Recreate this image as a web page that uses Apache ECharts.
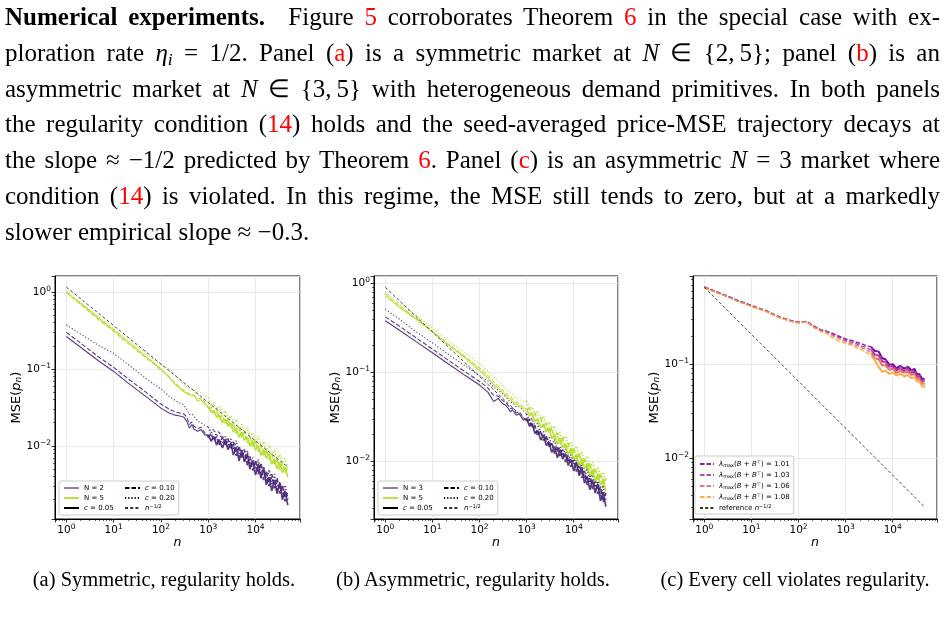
<!DOCTYPE html>
<html>
<head>
<meta charset="utf-8">
<script src="https://cdn.jsdelivr.net/npm/echarts@6/dist/echarts.min.js"></script>
<style>
html, body { margin: 0; padding: 0; background: #fff; }
body { width: 947px; height: 625px; position: relative; overflow: hidden; }
#chart { position: absolute; left: 0; top: 0; width: 947px; height: 625px; }
#para { position: absolute; left: 5px; top: -1px; width: 935px; font-family: 'Liberation Serif', serif; font-size: 25px; line-height: 35.8px; color: #000; }
.ln { text-align: justify; text-align-last: justify; }
.ln.last { text-align-last: left; }
.r { color: #ff0000; }
sub { font-size: 0.7em; line-height: 0; vertical-align: -0.25em; }
.cap { position: absolute; top: 567px; width: 300px; text-align: center; white-space: nowrap; font-family: 'Liberation Serif', serif; font-size: 20.5px; line-height: 24px; color: #000; }
</style>
</head>
<body>
<div id="chart"></div>
<div id="para">
<div class="ln"><b>Numerical experiments.</b>&ensp; Figure <span class="r">5</span> corroborates Theorem <span class="r">6</span> in the special case with ex-</div>
<div class="ln">ploration rate <i>η</i><sub><i>i</i></sub> = 1/2. Panel (<span class="r">a</span>) is a symmetric market at <i>N</i> ∈ {2,&thinsp;5}; panel (<span class="r">b</span>) is an</div>
<div class="ln">asymmetric market at <i>N</i> ∈ {3,&thinsp;5} with heterogeneous demand primitives. In both panels</div>
<div class="ln">the regularity condition (<span class="r">14</span>) holds and the seed-averaged price-MSE trajectory decays at</div>
<div class="ln">the slope ≈ −1/2 predicted by Theorem <span class="r">6</span>. Panel (<span class="r">c</span>) is an asymmetric <i>N</i> = 3 market where</div>
<div class="ln">condition (<span class="r">14</span>) is violated. In this regime, the MSE still tends to zero, but at a markedly</div>
<div class="ln last">slower empirical slope ≈ −0.3.</div>
</div>
<div class="cap" style="left:14px">(a) Symmetric, regularity holds.</div>
<div class="cap" style="left:323px">(b) Asymmetric, regularity holds.</div>
<div class="cap" style="left:645px">(c) Every cell violates regularity.</div>

<script>
// n values used by panels (a) and (b); index 18 (n = 1000) is where the noisy tail starts
const N_AB = [1, 2, 5, 10, 20, 50, 100, 150, 200, 250, 300, 350, 400, 450, 500, 600, 700, 850,
  1000, 1150, 1300, 1500, 1700, 2000, 2300, 2600, 3000, 3400, 3900, 4500, 5100, 5800, 6700, 7600, 8700,
  10000, 11400, 13000, 14800, 16900, 19300, 22000, 25000, 28500, 32500, 37000, 42000, 48000];
// n values used by panel (c); index 20 (n = 3500) is where the noisy tail starts
const N_C = [1, 2, 3, 5, 10, 20, 40, 70, 100, 150, 200, 300, 400, 500, 700, 1000, 1300, 1700, 2200, 2800,
  3500, 4200, 5000, 6000, 7000, 8500, 10000, 12000, 14500, 17500, 21000, 25000, 29000, 33000, 37000, 42000, 48000];
const N_REF = [1, 48000];

// (a) symmetric market, N = 2
const A_N2_C05 = [0.265, 0.192, 0.125, 0.093, 0.066, 0.043, 0.031, 0.0268, 0.0251, 0.0245, 0.0238, 0.021, 0.017, 0.019, 0.0165, 0.0155, 0.0163, 0.0138,
  0.0139, 0.0115, 0.0132, 0.0103, 0.0121, 0.0094, 0.0121, 0.0089, 0.0109, 0.0076, 0.0096, 0.0064, 0.0088, 0.0062, 0.0078, 0.0050, 0.0064,
  0.0042, 0.0058, 0.0038, 0.0052, 0.0031, 0.0039, 0.0026, 0.0036, 0.0024, 0.0033, 0.0020, 0.0026, 0.0017];
const A_N2_C10 = [0.30, 0.217, 0.141, 0.105, 0.075, 0.049, 0.035, 0.030, 0.0275, 0.0268, 0.0262, 0.024, 0.019, 0.0205, 0.018, 0.0168, 0.0175, 0.0148,
  0.0129, 0.0145, 0.0118, 0.0132, 0.0102, 0.0132, 0.0100, 0.0125, 0.0090, 0.0113, 0.0074, 0.0099, 0.0069, 0.0090, 0.0056, 0.0073, 0.0048,
  0.0065, 0.0043, 0.0060, 0.0036, 0.0047, 0.0030, 0.0043, 0.0028, 0.0038, 0.0024, 0.0031, 0.0019, 0.0026];
const A_N2_C20 = [0.376, 0.285, 0.20, 0.16, 0.115, 0.074, 0.055, 0.044, 0.039, 0.036, 0.0344, 0.030, 0.0255, 0.026, 0.0243, 0.021, 0.020, 0.0185,
  0.0177, 0.0148, 0.0165, 0.0134, 0.0155, 0.0111, 0.0133, 0.0098, 0.0123, 0.0090, 0.0117, 0.0073, 0.0091, 0.0065, 0.0086, 0.0054, 0.0070,
  0.0050, 0.0067, 0.0040, 0.0054, 0.0034, 0.0049, 0.0032, 0.0043, 0.0026, 0.0034, 0.0022, 0.0031, 0.0020];
// (a) symmetric market, N = 5
const A_N5_C05 = [1.00, 0.71, 0.45, 0.32, 0.225, 0.142, 0.100, 0.077, 0.063, 0.056, 0.051, 0.048, 0.046, 0.0455, 0.045, 0.038, 0.040, 0.035,
  0.0322, 0.0274, 0.0288, 0.0236, 0.0250, 0.0202, 0.0221, 0.0181, 0.0197, 0.0151, 0.0168, 0.0130, 0.0152, 0.0119, 0.0130, 0.0099, 0.0118,
  0.0088, 0.0101, 0.0075, 0.0090, 0.0069, 0.0080, 0.0058, 0.0068, 0.0050, 0.0061, 0.0045, 0.0053, 0.0039];
const A_N5_C10 = [0.98, 0.69, 0.43, 0.31, 0.215, 0.137, 0.097, 0.079, 0.066, 0.058, 0.053, 0.050, 0.048, 0.046, 0.046, 0.041, 0.042, 0.037,
  0.0312, 0.0318, 0.0268, 0.0284, 0.0232, 0.0248, 0.0195, 0.0220, 0.0173, 0.0194, 0.0146, 0.0170, 0.0130, 0.0151, 0.0110, 0.0130, 0.0098,
  0.0116, 0.0085, 0.0100, 0.0074, 0.0088, 0.0067, 0.0078, 0.0057, 0.0068, 0.0049, 0.0059, 0.0045, 0.0052];
const A_N5_C20 = [1.02, 0.73, 0.47, 0.335, 0.24, 0.155, 0.112, 0.100, 0.085, 0.072, 0.063, 0.058, 0.055, 0.056, 0.053, 0.050, 0.049, 0.044,
  0.0424, 0.0347, 0.0365, 0.0297, 0.0331, 0.0266, 0.0287, 0.0223, 0.0247, 0.0200, 0.0223, 0.0168, 0.0191, 0.0151, 0.0171, 0.0131, 0.0148,
  0.0111, 0.0133, 0.0101, 0.0114, 0.0087, 0.0102, 0.0077, 0.0087, 0.0066, 0.0078, 0.0060, 0.0068, 0.0051];
const A_REF = [1.16, 0.0053];

// (b) asymmetric market, N = 3
const B_N3_C05 = [0.38, 0.297, 0.213, 0.166, 0.128, 0.092, 0.072, 0.060, 0.047, 0.051, 0.045, 0.043, 0.040, 0.036, 0.038, 0.033, 0.034, 0.029,
  0.0305, 0.0249, 0.0267, 0.0206, 0.0222, 0.0174, 0.0197, 0.0151, 0.0164, 0.0126, 0.0146, 0.0110, 0.0136, 0.0106, 0.0122, 0.0090, 0.0105,
  0.0078, 0.0098, 0.0069, 0.0086, 0.0057, 0.0068, 0.0048, 0.0062, 0.0044, 0.0056, 0.0036, 0.0045, 0.0031];
const B_N3_C10 = [0.42, 0.33, 0.235, 0.183, 0.141, 0.101, 0.079, 0.067, 0.055, 0.054, 0.049, 0.046, 0.043, 0.039, 0.040, 0.035, 0.036, 0.031,
  0.0286, 0.0297, 0.0241, 0.0249, 0.0195, 0.0221, 0.0171, 0.0192, 0.0143, 0.0164, 0.0122, 0.0148, 0.0115, 0.0136, 0.0098, 0.0116, 0.0087,
  0.0105, 0.0077, 0.0097, 0.0065, 0.0078, 0.0054, 0.0071, 0.0049, 0.0063, 0.0043, 0.0052, 0.0035, 0.0044];
const B_N3_C20 = [0.51, 0.395, 0.275, 0.215, 0.164, 0.118, 0.092, 0.080, 0.068, 0.063, 0.058, 0.054, 0.050, 0.046, 0.046, 0.041, 0.041, 0.037,
  0.0341, 0.0286, 0.0303, 0.0247, 0.0267, 0.0200, 0.0216, 0.0167, 0.0187, 0.0150, 0.0177, 0.0128, 0.0147, 0.0116, 0.0138, 0.0101, 0.0119,
  0.0094, 0.0115, 0.0075, 0.0094, 0.0064, 0.0084, 0.0059, 0.0074, 0.0049, 0.0060, 0.0041, 0.0054, 0.0037];
// (b) asymmetric market, N = 5
const B_N5_C05 = [0.72, 0.54, 0.38, 0.285, 0.21, 0.145, 0.105, 0.086, 0.073, 0.066, 0.060, 0.056, 0.052, 0.050, 0.047, 0.044, 0.042, 0.039,
  0.0385, 0.0328, 0.0344, 0.0281, 0.0298, 0.0241, 0.0263, 0.0216, 0.0235, 0.0181, 0.0200, 0.0155, 0.0182, 0.0142, 0.0156, 0.0118, 0.0140,
  0.0105, 0.0120, 0.0089, 0.0108, 0.0082, 0.0095, 0.0069, 0.0081, 0.0060, 0.0073, 0.0054, 0.0063, 0.0046];
const B_N5_C10 = [0.76, 0.56, 0.39, 0.29, 0.215, 0.15, 0.112, 0.092, 0.078, 0.070, 0.064, 0.059, 0.055, 0.054, 0.050, 0.046, 0.045, 0.041,
  0.0384, 0.0391, 0.0330, 0.0350, 0.0285, 0.0305, 0.0240, 0.0270, 0.0212, 0.0239, 0.0180, 0.0209, 0.0159, 0.0186, 0.0136, 0.0160, 0.0121,
  0.0143, 0.0104, 0.0123, 0.0090, 0.0109, 0.0082, 0.0096, 0.0070, 0.0084, 0.0061, 0.0073, 0.0055, 0.0065];
const B_N5_C20 = [0.80, 0.60, 0.42, 0.31, 0.235, 0.165, 0.125, 0.104, 0.089, 0.080, 0.073, 0.067, 0.062, 0.060, 0.057, 0.052, 0.050, 0.046,
  0.0477, 0.0390, 0.0410, 0.0335, 0.0373, 0.0299, 0.0323, 0.0251, 0.0278, 0.0225, 0.0250, 0.0189, 0.0215, 0.0170, 0.0193, 0.0147, 0.0166,
  0.0125, 0.0149, 0.0113, 0.0129, 0.0097, 0.0115, 0.0086, 0.0098, 0.0074, 0.0087, 0.0067, 0.0076, 0.0058];
const B_REF = [0.90, 0.0041];

// (c) violated regularity, one curve per lambda_max(B + B^T)
const C_101 = [0.665, 0.58, 0.535, 0.48, 0.422, 0.373, 0.318, 0.29, 0.28, 0.286, 0.258, 0.232, 0.224, 0.216, 0.200, 0.186, 0.180, 0.172, 0.165, 0.157,
  0.153, 0.138, 0.137, 0.116, 0.113, 0.099, 0.100, 0.091, 0.096, 0.090, 0.094, 0.086, 0.089, 0.078, 0.078, 0.070, 0.069];
const C_103 = [0.66, 0.575, 0.53, 0.475, 0.418, 0.37, 0.315, 0.288, 0.278, 0.284, 0.256, 0.230, 0.222, 0.212, 0.196, 0.180, 0.173, 0.165, 0.157, 0.149,
  0.143, 0.126, 0.124, 0.107, 0.106, 0.094, 0.095, 0.086, 0.091, 0.085, 0.089, 0.081, 0.084, 0.074, 0.074, 0.066, 0.066];
const C_106 = [0.655, 0.572, 0.527, 0.472, 0.415, 0.368, 0.313, 0.287, 0.277, 0.283, 0.254, 0.228, 0.220, 0.205, 0.190, 0.174, 0.166, 0.158, 0.150, 0.141,
  0.133, 0.116, 0.113, 0.097, 0.098, 0.087, 0.090, 0.081, 0.085, 0.081, 0.083, 0.077, 0.079, 0.070, 0.070, 0.062, 0.062];
const C_108 = [0.652, 0.57, 0.525, 0.47, 0.413, 0.366, 0.312, 0.286, 0.276, 0.281, 0.250, 0.222, 0.212, 0.195, 0.178, 0.167, 0.160, 0.150, 0.142, 0.133,
  0.125, 0.109, 0.094, 0.083, 0.085, 0.079, 0.082, 0.076, 0.079, 0.074, 0.077, 0.071, 0.073, 0.065, 0.066, 0.058, 0.058];
const C_REF = [0.66, 0.0030];

// axis ranges
const X_RANGE = [0.575, 87000];
const Y_RANGES = [[0.00112, 1.62], [0.00225, 1.21], [0.00225, 0.87]];

const FONT = 'DejaVu Sans';
const PURPLE = '#472577';
const GREEN = '#b5de2b';
const PLASMA = ['#6a00a8', '#b12a90', '#e16462', '#fca636'];
const DASH = [4.5, 2];
const DOT = [1.2, 2];
const REF_DASH = [3, 2.2];

const chart = echarts.init(document.getElementById('chart'));

function powLabel(v) {
    const e = Math.log10(v);
    const r = Math.round(e);
    if (Math.abs(e - r) > 1e-6) return '';
    return '{b|10}{s|' + String(r).replace('-', '\u2212') + '}';
}

const tickRich = {
    b: { fontSize: 10.5, fontFamily: FONT, color: '#000', lineHeight: 14 },
    s: { fontSize: 7.5, fontFamily: FONT, color: '#000', lineHeight: 6, verticalAlign: 'top' }
};

function minorValues(lo, hi) {
    const out = [];
    for (let e = -4; e <= 5; e++) {
        for (let m = 2; m <= 9; m++) {
            const v = m * Math.pow(10, e);
            if (v > lo && v < hi) out.push(v);
        }
    }
    return out;
}

const grids = [
    { left: 55, top: 276, width: 245, height: 243 },
    { left: 374, top: 276, width: 244, height: 243 },
    { left: 693, top: 276, width: 244, height: 243 }
].map(g => Object.assign(g, { show: true, borderColor: '#000', borderWidth: 1, containLabel: false }));

const xAxes = [];
const yAxes = [];
for (let gi = 0; gi < 3; gi++) {
    xAxes.push({
        type: 'log', gridIndex: gi, min: X_RANGE[0], max: X_RANGE[1], position: 'bottom',
        axisLine: { show: true, onZero: false, lineStyle: { color: '#000', width: 1 } },
        axisTick: { show: true, inside: false, length: 3.5, lineStyle: { color: '#000', width: 0.8 } },
        axisLabel: { formatter: powLabel, rich: tickRich, margin: 4 },
        splitLine: { show: true, lineStyle: { color: '#e4e4e4', width: 0.8 } },
        name: '{i|n}', nameLocation: 'middle', nameGap: 16,
        nameTextStyle: { rich: { i: { fontStyle: 'italic', fontSize: 12.5, fontFamily: FONT, color: '#000' } } }
    });
    yAxes.push({
        type: 'log', gridIndex: gi, min: Y_RANGES[gi][0], max: Y_RANGES[gi][1], position: 'left',
        axisLine: { show: true, onZero: false, lineStyle: { color: '#000', width: 1 } },
        axisTick: { show: true, inside: false, length: 3.5, lineStyle: { color: '#000', width: 0.8 } },
        axisLabel: { formatter: powLabel, rich: tickRich, margin: 4 },
        splitLine: { show: true, lineStyle: { color: '#e4e4e4', width: 0.8 } },
        name: '{n|MSE(}{i|p}{u|n}{n|)}', nameLocation: 'middle', nameGap: 31,
        nameTextStyle: {
            rich: {
                n: { fontSize: 13, fontFamily: FONT, color: '#000' },
                i: { fontSize: 13, fontFamily: FONT, color: '#000', fontStyle: 'italic' },
                u: { fontSize: 9, fontFamily: FONT, color: '#000', fontStyle: 'italic', verticalAlign: 'bottom', lineHeight: 9 }
            }
        }
    });
}
// minor ticks (2..9 x 10^k), one extra axis pair per grid
for (let gi = 0; gi < 3; gi++) {
    xAxes.push({
        type: 'log', gridIndex: gi, min: X_RANGE[0], max: X_RANGE[1], position: 'bottom',
        axisLine: { show: false }, axisLabel: { show: false }, splitLine: { show: false },
        axisTick: { show: true, length: 2, customValues: minorValues(X_RANGE[0], X_RANGE[1]), lineStyle: { color: '#000', width: 0.6 } }
    });
    yAxes.push({
        type: 'log', gridIndex: gi, min: Y_RANGES[gi][0], max: Y_RANGES[gi][1], position: 'left',
        axisLine: { show: false }, axisLabel: { show: false }, splitLine: { show: false },
        axisTick: { show: true, length: 2, customValues: minorValues(Y_RANGES[gi][0], Y_RANGES[gi][1]), lineStyle: { color: '#000', width: 0.6 } }
    });
}

function line(name, gi, ns, vals, color, type, width, opacity) {
    return {
        type: 'line', name: name, xAxisIndex: gi, yAxisIndex: gi,
        data: ns.map((n, i) => [n, vals[i]]),
        symbol: 'none', showSymbol: false, silent: true, animation: false,
        lineStyle: { color: color, width: width, type: type, opacity: opacity },
        itemStyle: { color: color },
        emphasis: { disabled: true }
    };
}

// a run drawn thin up to index `cut`, and a little heavier over its noisy tail
function noisy(name, gi, ns, vals, cut, color, type, tailWidth, opacity) {
    return [
        line(name, gi, ns.slice(0, cut + 1), vals.slice(0, cut + 1), color, type, 1.1, opacity),
        line(name + ':tail', gi, ns.slice(cut), vals.slice(cut), color, type, tailWidth, opacity)
    ];
}

function proxy(name, gi, color, type, width, opacity) {
    return line(name, gi, [], [], color, type, width, opacity);
}

const series = [].concat(
    // panel (a)
    noisy('a1', 0, N_AB, A_N2_C05, 18, PURPLE, 'solid', 1.7, 0.9),
    noisy('a2', 0, N_AB, A_N2_C10, 18, PURPLE, DASH, 1.7, 0.9),
    noisy('a3', 0, N_AB, A_N2_C20, 18, PURPLE, DOT, 1.7, 0.9),
    noisy('a4', 0, N_AB, A_N5_C05, 18, GREEN, 'solid', 1.7, 0.95),
    noisy('a5', 0, N_AB, A_N5_C10, 18, GREEN, DASH, 1.7, 0.95),
    noisy('a6', 0, N_AB, A_N5_C20, 18, GREEN, DOT, 1.7, 0.95),
    [line('a:ref', 0, N_REF, A_REF, '#333', REF_DASH, 0.9, 1),
    proxy('a:N2', 0, PURPLE, 'solid', 1.5, 0.6),
    proxy('a:N5', 0, GREEN, 'solid', 1.5, 0.9),
    proxy('a:c05', 0, '#000', 'solid', 1.2, 1),
    proxy('a:c10', 0, '#000', DASH, 1.2, 1),
    proxy('a:c20', 0, '#000', DOT, 1.2, 1)],
    // panel (b)
    noisy('b1', 1, N_AB, B_N3_C05, 18, PURPLE, 'solid', 1.7, 0.9),
    noisy('b2', 1, N_AB, B_N3_C10, 18, PURPLE, DASH, 1.7, 0.9),
    noisy('b3', 1, N_AB, B_N3_C20, 18, PURPLE, DOT, 1.7, 0.9),
    noisy('b4', 1, N_AB, B_N5_C05, 18, GREEN, 'solid', 1.7, 0.95),
    noisy('b5', 1, N_AB, B_N5_C10, 18, GREEN, DASH, 1.7, 0.95),
    noisy('b6', 1, N_AB, B_N5_C20, 18, GREEN, DOT, 1.7, 0.95),
    [line('b:ref', 1, N_REF, B_REF, '#333', REF_DASH, 0.9, 1),
    proxy('b:N3', 1, PURPLE, 'solid', 1.5, 0.6),
    proxy('b:N5', 1, GREEN, 'solid', 1.5, 0.9),
    proxy('b:c05', 1, '#000', 'solid', 1.2, 1),
    proxy('b:c10', 1, '#000', DASH, 1.2, 1),
    proxy('b:c20', 1, '#000', DOT, 1.2, 1)],
    // panel (c)
    [line('c:101', 2, N_C, C_101, PLASMA[0], DASH, 1.5, 0.85),
    line('c:103', 2, N_C, C_103, PLASMA[1], DASH, 1.5, 0.85),
    line('c:106', 2, N_C, C_106, PLASMA[2], DASH, 1.5, 0.85),
    line('c:108', 2, N_C, C_108, PLASMA[3], DASH, 1.5, 0.85)],
    [line('c:101:tail', 2, N_C.slice(20), C_101.slice(20), PLASMA[0], 'solid', 2, 0.8),
    line('c:103:tail', 2, N_C.slice(20), C_103.slice(20), PLASMA[1], 'solid', 2, 0.8),
    line('c:106:tail', 2, N_C.slice(20), C_106.slice(20), PLASMA[2], 'solid', 2, 0.8),
    line('c:108:tail', 2, N_C.slice(20), C_108.slice(20), PLASMA[3], 'solid', 2, 0.8),
    line('c:ref', 2, N_REF, C_REF, '#333', REF_DASH, 0.9, 1)]
);

const LABELS = {
    'a:N2': 'N = 2', 'a:N5': 'N = 5', 'b:N3': 'N = 3', 'b:N5': 'N = 5',
    'a:c05': '{i|c} = 0.05', 'a:c10': '{i|c} = 0.10', 'a:c20': '{i|c} = 0.20',
    'b:c05': '{i|c} = 0.05', 'b:c10': '{i|c} = 0.10', 'b:c20': '{i|c} = 0.20',
    'a:ref': '{i|n}{s|\u22121/2}', 'b:ref': '{i|n}{s|\u22121/2}',
    'c:101': '{i|\u03bb}{u|max}({i|B} + {i|B}{s|\u22a4}) = 1.01',
    'c:103': '{i|\u03bb}{u|max}({i|B} + {i|B}{s|\u22a4}) = 1.03',
    'c:106': '{i|\u03bb}{u|max}({i|B} + {i|B}{s|\u22a4}) = 1.06',
    'c:108': '{i|\u03bb}{u|max}({i|B} + {i|B}{s|\u22a4}) = 1.08',
    'c:ref': 'reference {i|n}{s|\u22121/2}'
};

const legendText = {
    fontSize: 7, fontFamily: FONT, color: '#000', lineHeight: 8,
    rich: {
        i: { fontSize: 7, fontFamily: FONT, color: '#000', fontStyle: 'italic', lineHeight: 8 },
        s: { fontSize: 5, fontFamily: FONT, color: '#000', verticalAlign: 'top', lineHeight: 4 },
        u: { fontSize: 5, fontFamily: FONT, color: '#000', verticalAlign: 'bottom', lineHeight: 4 }
    }
};

function legendBox(extra) {
    return Object.assign({
        orient: 'vertical', itemWidth: 15, itemHeight: 8, itemGap: 2,
        padding: [3, 4, 3, 4], borderColor: '#cccccc', borderWidth: 1, borderRadius: 2,
        backgroundColor: 'rgba(255,255,255,0.85)', selectedMode: false,
        itemStyle: { opacity: 0 },
        textStyle: legendText, formatter: name => LABELS[name] || name
    }, extra);
}

const legends = [
    legendBox({
        left: 59, top: 481, height: 30,
        data: [{ name: 'a:N2', textStyle: { width: 38 } }, { name: 'a:N5', textStyle: { width: 38 } }, { name: 'a:c05', textStyle: { width: 38 } },
            'a:c10', 'a:c20', 'a:ref']
    }),
    legendBox({
        left: 378, top: 481, height: 30,
        data: [{ name: 'b:N3', textStyle: { width: 38 } }, { name: 'b:N5', textStyle: { width: 38 } }, { name: 'b:c05', textStyle: { width: 38 } },
            'b:c10', 'b:c20', 'b:ref']
    }),
    legendBox({
        left: 695, top: 456, itemWidth: 14, itemGap: 3, padding: [4, 4, 2, 4],
        data: ['c:101', 'c:103', 'c:106', 'c:108', 'c:ref']
    })
];

chart.setOption({
    animation: false,
    backgroundColor: '#fff',
    textStyle: { fontFamily: FONT },
    grid: grids,
    xAxis: xAxes,
    yAxis: yAxes,
    legend: legends,
    series: series
});
</script>
</body>
</html>
